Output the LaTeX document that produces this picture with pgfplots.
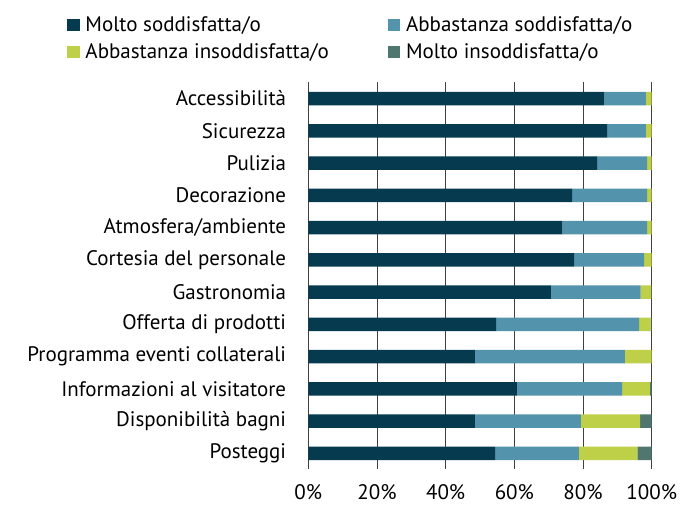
\documentclass[border=0pt]{standalone}
\usepackage{fontspec}
\setmainfont{PT Sans}
\usepackage{pgfplots}
\pgfplotsset{compat=1.18}
\definecolor{c1}{HTML}{063A4F}
\definecolor{c2}{HTML}{5393AB}
\definecolor{c3}{HTML}{BED047}
\definecolor{c4}{HTML}{50776F}
\newcommand{\lf}{\fontsize{21bp}{25bp}\selectfont}
\begin{document}
\begin{tikzpicture}[x=1bp,y=1bp]
\useasboundingbox (0,0) rectangle (680,506);
\begin{axis}[
  at={(308.3bp,36.6bp)}, anchor=south west,
  width=343.4bp, height=387bp, scale only axis,
  xbar stacked, bar width=13.5bp,
  xmin=0, xmax=100, ymin=-0.5, ymax=11.5, y dir=reverse,
  enlargelimits=false,
  ytick={0,...,11},
  yticklabels={Accessibilità,Sicurezza,Pulizia,Decorazione,Atmosfera/ambiente,Cortesia del personale,Gastronomia,Offerta di prodotti,Programma eventi collaterali,Informazioni al visitatore,Disponibilità bagni,Posteggi},
  xtick={0,20,40,60,80,100},
  xticklabels={0\%,20\%,40\%,60\%,80\%,100\%},
  xmajorgrids, grid style={draw=black!75, line width=0.9bp},
  axis line style={draw=none},
  major tick length=0pt,
  tick style={draw=none},
  every tick label/.append style={font=\lf, inner sep=0pt},
  yticklabel style={anchor=east, xshift=-22bp},
  xticklabel style={anchor=north, yshift=-15bp},
  legend columns=2,
  legend style={at={(-0.7027,1.170)}, anchor=north west, draw=none, fill=none,
    inner sep=0pt, font=\lf, nodes={inner sep=0pt},
    row sep=10.5bp,
    /tikz/every odd column/.style={column sep=5.7bp},
    /tikz/every even column/.style={column sep=0bp}},
  legend cell align=left,
  legend image code/.code={\fill[#1] (0bp,-6.3bp) rectangle (12.6bp,6.3bp);},
]
\addplot[fill=c1, draw=none] coordinates {(86.2,0) (87.0,1) (84.1,2) (76.8,3) (74.0,4) (77.4,5) (70.6,6) (54.7,7) (48.5,8) (60.7,9) (48.5,10) (54.4,11)};
\addlegendentry{\makebox[302.3bp][l]{Molto soddisfatta/o}}
\addplot[fill=c2, draw=none] coordinates {(12.1,0) (11.3,1) (14.6,2) (21.9,3) (24.7,4) (20.4,5) (26.2,6) (41.6,7) (43.7,8) (30.7,9) (30.9,10) (24.4,11)};
\addlegendentry{Abbastanza soddisfatta/o}
\addplot[fill=c3, draw=none] coordinates {(1.7,0) (1.7,1) (1.3,2) (1.3,3) (1.3,4) (2.2,5) (3.0,6) (3.4,7) (7.8,8) (8.1,9) (17.2,10) (17.0,11)};
\addlegendentry{\makebox[302.3bp][l]{Abbastanza insoddisfatta/o}}
\addplot[fill=c4, draw=none] coordinates {(0,0) (0,1) (0,2) (0,3) (0,4) (0,5) (0.2,6) (0.3,7) (0,8) (0.5,9) (3.4,10) (4.2,11)};
\addlegendentry{Molto insoddisfatta/o}
\end{axis}
\end{tikzpicture}
\end{document}
